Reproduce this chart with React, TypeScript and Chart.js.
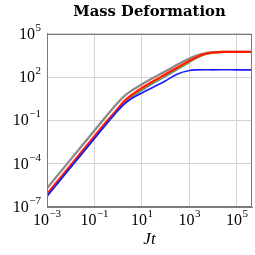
import { useEffect, useRef } from "react";
import { Chart, registerables } from "chart.js";
Chart.register(...registerables);

const times = [1e-3, 1e-2, 1e-1, 0.3, 1, 2, 4, 10, 30, 100, 300, 1000, 2000, 4000, 1e4, 3e4, 1e5, 4.3e5];
const grayLog = [-5.7, -3.7, -1.7, -0.75, 0.25, 0.75, 1.1, 1.5, 1.95, 2.4, 2.85, 3.28, 3.48, 3.63, 3.72, 3.745, 3.74, 3.74];
const redLog = [-6.1, -4.1, -2.1, -1.15, -0.15, 0.4, 0.8, 1.25, 1.72, 2.2, 2.65, 3.12, 3.38, 3.58, 3.7, 3.74, 3.74, 3.74];
const orangeLog = [-6.16, -4.16, -2.16, -1.2, -0.2, 0.34, 0.74, 1.2, 1.67, 2.15, 2.6, 3.08, 3.35, 3.56, 3.69, 3.74, 3.74, 3.74];
const greenLog = [-6.2, -4.2, -2.2, -1.25, -0.25, 0.28, 0.68, 1.14, 1.62, 2.1, 2.56, 3.05, 3.33, 3.55, 3.69, 3.74, 3.74, 3.74];
const lightBlueLog = [-6.25, -4.25, -2.25, -1.3, -0.3, 0.22, 0.62, 1.08, 1.57, 2.05, 2.52, 3.02, 3.31, 3.54, 3.68, 3.74, 3.74, 3.74];
const blueLog = [-6.25, -4.25, -2.25, -1.3, -0.3, 0.2, 0.55, 0.9, 1.3, 1.75, 2.2, 2.45, 2.5, 2.51, 2.5, 2.51, 2.5, 2.5];

const xTickValues = [1e-3, 1e-1, 1e1, 1e3, 1e5];
const yTickValues = [1e-7, 1e-4, 1e-1, 1e2, 1e5];

const exponentOf = (v: number) => Math.round(Math.log10(v)).toString().replace("-", "\u2212");

const series = [
  { label: "blue", data: blueLog, color: "#1a1aff", width: 1.6 },
  { label: "red", data: redLog, color: "#ff1a00", width: 2.2 },
  { label: "gray", data: grayLog, color: "#8a8a8a", width: 2.3 },
  { label: "orange", data: orangeLog, color: "#ff9a00", width: 2 },
  { label: "green", data: greenLog, color: "#2ca02c", width: 1.6 },
  { label: "lightblue", data: lightBlueLog, color: "#4a90d9", width: 1.6 },
];

const BASE_FONT = "16px 'Liberation Serif', serif";
const EXP_FONT = "11px 'Liberation Serif', serif";

const framePlugin = {
  id: "frame",
  afterDraw(chart: any) {
    const { ctx, chartArea } = chart;
    ctx.save();
    ctx.strokeStyle = "#7a7a7a";
    ctx.lineWidth = 1;
    ctx.strokeRect(
      Math.round(chartArea.left) + 0.5,
      Math.round(chartArea.top) + 0.5,
      Math.round(chartArea.right - chartArea.left) - 1,
      Math.round(chartArea.bottom - chartArea.top) - 1
    );

    const drawPow = (exp: string, x: number, baseline: number, align: "center" | "right") => {
      ctx.font = BASE_FONT;
      const wb = ctx.measureText("10").width;
      ctx.font = EXP_FONT;
      const we = ctx.measureText(exp).width;
      const total = wb + we + 0.5;
      const start = align === "center" ? x - total / 2 : x - total;
      ctx.fillStyle = "#000";
      ctx.textAlign = "left";
      ctx.textBaseline = "alphabetic";
      ctx.font = BASE_FONT;
      ctx.fillText("10", start, baseline);
      ctx.font = EXP_FONT;
      ctx.fillText(exp, start + wb + 0.5, baseline - 8);
    };

    const xs = chart.scales.x;
    xs.ticks.forEach((t: any) => {
      const px = xs.getPixelForValue(t.value);
      drawPow(exponentOf(t.value), px, chartArea.bottom + 18, "center");
    });
    const ys = chart.scales.y;
    ys.ticks.forEach((t: any) => {
      const py = ys.getPixelForValue(t.value);
      drawPow(exponentOf(t.value), chartArea.left - 6, py + 5, "right");
    });
    ctx.restore();
  },
};

export default function App() {
  const ref = useRef<HTMLCanvasElement | null>(null);
  useEffect(() => {
    if (!ref.current) return;
    const chart = new Chart(ref.current, {
      type: "line",
      data: {
        datasets: series.map((s) => ({
          label: s.label,
          data: times.map((t, i) => ({ x: t, y: Math.pow(10, s.data[i]) })),
          borderColor: s.color,
          backgroundColor: s.color,
          borderWidth: s.width,
          pointRadius: 0,
          cubicInterpolationMode: "monotone" as const,
          fill: false,
        })),
      },
      options: {
        animation: false,
        responsive: false,
        layout: { padding: { left: 0, right: 3, top: 0, bottom: 0 } },
        plugins: {
          legend: { display: false },
          tooltip: { enabled: false },
          title: {
            display: true,
            text: "Mass Deformation",
            fullSize: false,
            font: { family: "'DejaVu Serif', serif", size: 14.8, weight: "bold" },
            color: "#000",
            padding: { top: 3, bottom: 13 },
          },
        },
        scales: {
          x: {
            type: "logarithmic",
            min: 1e-3,
            max: 4.3e5,
            afterBuildTicks: (scale: any) => {
              scale.ticks = xTickValues.map((v) => ({ value: v }));
            },
            afterFit: (scale: any) => {
              scale.height = 48;
            },
            ticks: { display: false, autoSkip: false, maxRotation: 0 },
            grid: { color: "#d4d4d4", drawTicks: false },
            border: { display: true, color: "#7a7a7a" },
            title: {
              display: true,
              text: "Jt",
              color: "#000",
              font: { family: "'Liberation Serif', serif", size: 17, style: "italic" },
              padding: { top: 0, bottom: 5 },
            },
          },
          y: {
            type: "logarithmic",
            min: 1e-7,
            max: 1e5,
            afterBuildTicks: (scale: any) => {
              scale.ticks = yTickValues.map((v) => ({ value: v }));
            },
            afterFit: (scale: any) => {
              scale.width = 47;
            },
            ticks: { display: false, autoSkip: false },
            grid: { color: "#d4d4d4", drawTicks: false },
            border: { display: true, color: "#7a7a7a" },
          },
        },
      },
      plugins: [framePlugin],
    });
    return () => chart.destroy();
  }, []);
  return (
    <div style={{ position: "absolute", left: 0, top: 0, width: 255, height: 255 }}>
      <canvas ref={ref} width={255} height={255} />
    </div>
  );
}
